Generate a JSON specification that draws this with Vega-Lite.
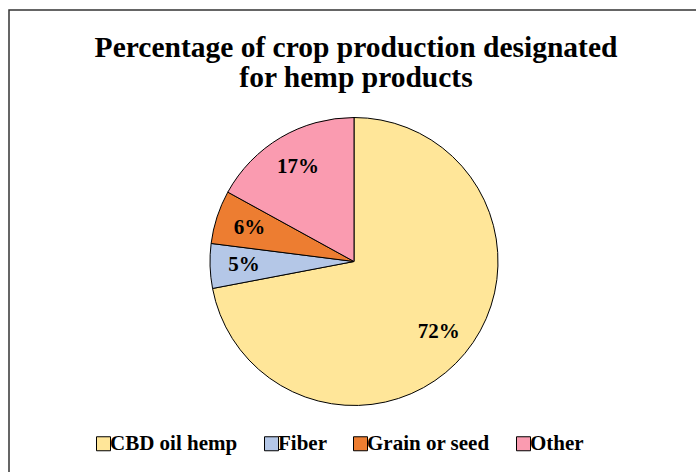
{
  "$schema": "https://vega.github.io/schema/vega-lite/v6.json",
  "autosize": "none",
  "padding": {"left": 9, "top": 10, "right": 0, "bottom": 0},
  "width": 690,
  "height": 503,
  "background": "white",
  "view": {"stroke": "#333333", "strokeWidth": 1.5},
  "title": {
    "text": ["Percentage of crop production designated", "for hemp products"],
    "font": "Liberation Serif",
    "fontSize": 29.5,
    "fontWeight": "bold",
    "color": "black",
    "lineHeight": 29.5,
    "anchor": "middle",
    "frame": "group",
    "baseline": "alphabetic",
    "offset": -106,
    "dx": 2
  },
  "data": {
    "values": [
      {"category": "CBD oil hemp", "pct": 0.72},
      {"category": "Fiber", "pct": 0.05},
      {"category": "Grain or seed", "pct": 0.06},
      {"category": "Other", "pct": 0.17}
    ]
  },
  "encoding": {
    "theta": {"field": "pct", "type": "quantitative", "stack": true},
    "order": {"field": "category", "type": "ordinal", "sort": "ascending"}
  },
  "layer": [
    {
      "mark": {"type": "arc", "outerRadius": 144, "stroke": "black", "strokeWidth": 1},
      "encoding": {
        "color": {
          "field": "category",
          "type": "nominal",
          "scale": {
            "domain": ["CBD oil hemp", "Fiber", "Grain or seed", "Other"],
            "range": ["#FFE699", "#B4C7E7", "#ED7D31", "#FA9BB0"]
          },
          "legend": {
            "title": null,
            "orient": "none",
            "direction": "horizontal",
            "legendX": 84,
            "legendY": 423,
            "padding": 0,
            "symbolType": "square",
            "symbolSize": 196,
            "symbolStrokeColor": "black",
            "symbolStrokeWidth": 1,
            "symbolOpacity": 1,
            "labelFont": "Liberation Serif",
            "labelFontSize": 21,
            "labelFontWeight": "bold",
            "labelColor": "black",
            "labelOffset": -4,
            "columnPadding": 23,
            "labelLimit": 300
          }
        }
      }
    },
    {
      "mark": {
        "type": "text",
        "radius": 110,
        "font": "Liberation Serif",
        "fontSize": 21,
        "fontWeight": "bold",
        "fill": "black"
      },
      "encoding": {
        "detail": {"field": "category", "type": "nominal"},
        "text": {"field": "pct", "type": "quantitative", "format": ".0%"}
      }
    }
  ],
  "config": {
    "view": {"stroke": "#333333", "strokeWidth": 1.5}
  }
}
